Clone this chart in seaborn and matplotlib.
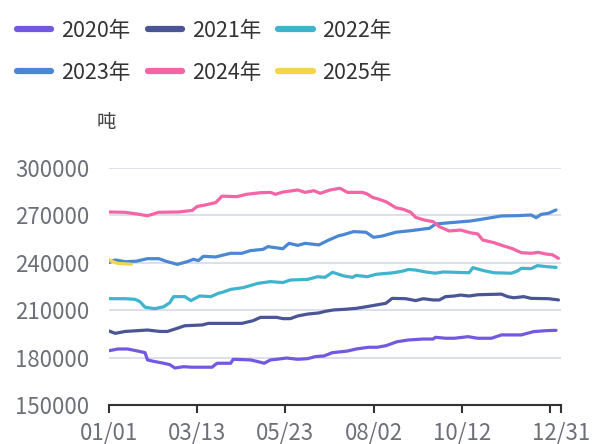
import pandas as pd
import matplotlib
matplotlib.use("Agg")
import matplotlib.pyplot as plt
from matplotlib.lines import Line2D
import seaborn as sns

# day-of-year index (0 = 01/01) and stock values in tons
days_2020 = [0, 7, 15, 22, 29, 31, 36, 44, 49, 53, 60, 67, 83, 87, 98, 100, 114, 119, 125, 130, 135, 143,
             152, 160, 166, 173, 180, 192, 199, 209, 216, 223, 232, 241, 253, 261, 263, 271, 278, 289, 297,
             308, 316, 332, 342, 352, 360]
vals_2020 = [184300, 185400, 185400, 184300, 183100, 178500, 177600, 176400, 175500, 173400, 174200, 173900,
             173900, 176400, 176400, 178900, 178500, 177600, 176400, 178500, 178900, 179700, 178900, 179300,
             180600, 181000, 183100, 184100, 185400, 186500, 186500, 187500, 190000, 191100, 191700, 191700,
             192800, 192200, 192200, 193200, 192200, 192200, 194300, 194300, 196400, 197000, 197200]

days_2021 = [0, 5, 13, 23, 31, 41, 47, 55, 61, 75, 80, 92, 107, 116, 122, 135, 140, 146, 152, 160, 169, 174,
             181, 190, 199, 207, 215, 223, 228, 239, 247, 253, 261, 266, 271, 278, 283, 290, 297, 316, 321,
             326, 334, 340, 354, 362]
vals_2021 = [196800, 195300, 196500, 197000, 197400, 196500, 196500, 198500, 200100, 200600, 201600, 201600,
             201600, 203300, 205400, 205400, 204600, 204600, 206300, 207500, 208200, 209200, 210100, 210500,
             211100, 212100, 213200, 214300, 217400, 217200, 216000, 217200, 216400, 216400, 218500, 218900,
             219500, 218900, 219700, 220100, 218500, 217800, 218500, 217400, 217200, 216400]

days_2022 = [0, 13, 21, 25, 29, 37, 44, 49, 52, 61, 66, 73, 82, 88, 92, 98, 108, 120, 130, 140, 146, 160,
             168, 174, 180, 185, 189, 196, 199, 208, 215, 229, 237, 241, 247, 255, 263, 269, 278, 290, 293,
             302, 310, 324, 329, 332, 340, 345, 352, 360]
vals_2022 = [217200, 217200, 216800, 215300, 211800, 210900, 212100, 214700, 218500, 218500, 216000, 218900,
             218500, 220600, 221400, 223100, 224200, 226900, 228000, 227400, 229000, 229400, 231100, 230700,
             233900, 232600, 231600, 230700, 231900, 231100, 232600, 233600, 234700, 235700, 235300, 234100,
             233300, 234100, 233900, 233600, 236800, 234900, 233600, 233300, 234700, 236400, 236200, 238100,
             237500, 237000]

days_2023 = [0, 5, 13, 22, 31, 40, 47, 55, 63, 68, 72, 76, 86, 92, 98, 107, 114, 124, 128, 140, 145, 152,
             158, 169, 177, 185, 188, 197, 207, 213, 220, 231, 243, 253, 258, 263, 274, 291, 300, 316, 329,
             340, 344, 348, 354, 360]
vals_2023 = [240000, 241700, 240600, 240900, 242500, 242500, 240600, 238900, 240600, 242100, 241300, 244000,
             243600, 244800, 245900, 245900, 247600, 248400, 250100, 248800, 252200, 250900, 252200, 251200,
             254300, 257000, 257500, 259600, 259200, 256000, 256800, 259200, 260200, 261200, 261700, 264400,
             265200, 266300, 267400, 269500, 269700, 270100, 268400, 270500, 271200, 273300]

days_2024 = [0, 13, 23, 31, 40, 56, 67, 71, 78, 86, 91, 103, 111, 122, 130, 134, 140, 152, 158, 165, 170,
             178, 186, 192, 204, 208, 212, 217, 223, 231, 237, 243, 247, 254, 261, 266, 274, 283, 291, 297,
             301, 310, 318, 325, 332, 340, 346, 352, 357, 362]
vals_2024 = [272000, 271800, 270700, 269600, 271800, 272000, 273000, 275500, 276500, 278000, 282000, 281700,
             283200, 284200, 284400, 283200, 284600, 285900, 284400, 285500, 283800, 285900, 287000, 284400,
             284400, 283400, 281300, 280200, 278500, 274700, 273700, 271800, 268600, 266900, 265900, 262700,
             260000, 260600, 258900, 258100, 254300, 252600, 250500, 248800, 246300, 245900, 246500, 245400,
             245000, 242700]

days_2025 = [0, 2, 7, 18]
vals_2025 = [242000, 240900, 239500, 239000]

years = ["2020年", "2021年", "2022年", "2023年", "2024年", "2025年"]
colors = ["#7259e0", "#4a5596", "#3fb4cc", "#4a88d4", "#f564a6", "#f2d54c"]

tick_days = [0, 71, 142, 213, 284, 355, 364]
tick_labels = ["01/01", "03/13", "05/23", "08/02", "10/12", "", "12/31"]

frames = []
for yr, d, v in zip(years,
                    [days_2020, days_2021, days_2022, days_2023, days_2024, days_2025],
                    [vals_2020, vals_2021, vals_2022, vals_2023, vals_2024, vals_2025]):
    frames.append(pd.DataFrame({"day": d, "value": v, "year": yr}))
df = pd.concat(frames, ignore_index=True)

sns.set_theme(style="white")
plt.rcParams["font.family"] = ["Noto Sans CJK SC", "DejaVu Sans"]

fig = plt.figure(figsize=(5.97, 4.44), dpi=100)
ax = fig.add_axes([0.1826, 0.0878, 0.7571, 0.5345])

palette = dict(zip(years, colors))
sns.lineplot(data=df, x="day", y="value", hue="year", palette=palette,
             linewidth=2.3, legend=False, ax=ax, sort=False)

ax.set_xlim(0, 364)
ax.set_ylim(150000, 300000)
ax.set_yticks([150000, 180000, 210000, 240000, 270000, 300000])
ax.set_yticklabels([str(t) for t in [150000, 180000, 210000, 240000, 270000, 300000]])
ax.set_xticks(tick_days)
ax.set_xticklabels(tick_labels)
ax.set_xlabel("")
ax.set_ylabel("")

ax.grid(axis="y", color="#dadde8", linewidth=1.3)
ax.set_axisbelow(True)
for s in ["left", "right", "top"]:
    ax.spines[s].set_visible(False)
ax.spines["bottom"].set_color("#333333")
ax.spines["bottom"].set_linewidth(1.5)

ax.tick_params(axis="y", length=0, pad=14, labelsize=16, labelcolor="#6e7079")
ax.tick_params(axis="x", direction="out", length=6, width=1.5, color="#333333",
               pad=6, labelsize=16, labelcolor="#6e7079", bottom=True)

fig.text(0.178, 0.725, "吨", fontsize=14, color="#444444", ha="center", va="center")

# legend fills column by column, so reorder to get rows 2020-2022 / 2023-2025
order = [0, 3, 1, 4, 2, 5]
handles = [Line2D([0], [0], color=colors[i], linewidth=4.5) for i in order]
labels = [years[i] for i in order]
fig.legend(handles, labels, loc="upper left", bbox_to_anchor=(0.003, 0.99), ncol=3, frameon=False,
           fontsize=15.5, handlelength=1.6, handletextpad=0.45, columnspacing=0.8,
           labelspacing=0.95, borderaxespad=0.3, labelcolor="#333333")

fig.savefig("out.png", dpi=100)
